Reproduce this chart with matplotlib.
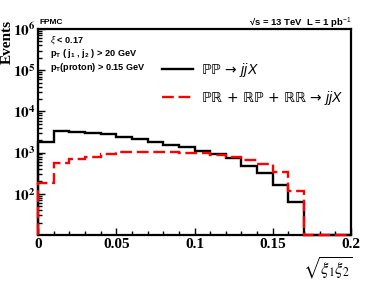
import numpy as np
import matplotlib
matplotlib.use("Agg")
import matplotlib.pyplot as plt
from matplotlib.ticker import LogLocator, MultipleLocator, FixedLocator, NullFormatter

# ---- data ----
bin_edges = np.round(np.arange(0, 0.2001, 0.01), 3)
pp_jjx = [1840, 3340, 3160, 3040, 2830, 2430, 2100, 1780, 1530, 1390,
          1090, 910, 752, 481, 325, 164, 62, 0, 0, 0]
pr_rp_rr_jjx = [186, 569, 700, 795, 910, 1020, 1060, 1050, 1035, 962,
                962, 890, 795, 660, 518, 333, 119, 0, 0, 0]
x_ticks = [0, 0.05, 0.1, 0.15, 0.2]
x_tick_labels = ["0", "0.05", "0.1", "0.15", "0.2"]
y_ticks = [1e2, 1e3, 1e4, 1e5, 1e6]
y_tick_labels = [r"$\mathbf{10^{2}}$", r"$\mathbf{10^{3}}$", r"$\mathbf{10^{4}}$",
                 r"$\mathbf{10^{5}}$", r"$\mathbf{10^{6}}$"]
legend_labels = ["\u2119\u2119 \u2192 $jjX$",
                 "\u2119\u211D + \u211D\u2119 + \u211D\u211D \u2192 $jjX$"]
cut_lines = [r"$\xi$ < 0.17", r"p$_\mathregular{T}$ ( j$_\mathregular{1}$ , j$_\mathregular{2}$ ) > 20 GeV",
             r"p$_\mathregular{T}$(proton) > 0.15 GeV"]

plt.rcParams['mathtext.fontset'] = 'custom'
plt.rcParams['mathtext.rm'] = 'Liberation Sans'
plt.rcParams['mathtext.it'] = 'Liberation Sans:italic'
plt.rcParams['mathtext.bf'] = 'Liberation Sans:bold'

fig = plt.figure(figsize=(3.9, 2.81), dpi=100)
ax = fig.add_axes([38/390, 1 - 235/281, 313/390, 206/281])
ymin, ymax = 10, 1e6
ax.set_yscale('log')
ax.set_xlim(0, 0.2)
ax.set_ylim(ymin, ymax)

ax.stairs(np.maximum(pp_jjx, ymin), bin_edges, baseline=ymin, color='black', lw=1.7,
          label=legend_labels[0], zorder=3, clip_on=False)
ax.stairs(np.maximum(pr_rp_rr_jjx, ymin), bin_edges, baseline=ymin, color='#ff0000', lw=1.7,
          linestyle=(0, (5, 2)), label=legend_labels[1], zorder=4, clip_on=False)

for s in ax.spines.values():
    s.set_linewidth(1.6)

ax.xaxis.set_major_locator(FixedLocator(x_ticks))
ax.xaxis.set_minor_locator(MultipleLocator(0.01))
ax.set_xticklabels(x_tick_labels)
ax.yaxis.set_major_locator(FixedLocator(y_ticks))
ax.yaxis.set_minor_locator(LogLocator(base=10, subs=np.arange(2, 10)))
ax.yaxis.set_minor_formatter(NullFormatter())
ax.set_yticklabels(y_tick_labels)
ax.tick_params(which='both', direction='in', top=False, right=False, width=1.0)
ax.tick_params(which='major', length=5, pad=2)
ax.tick_params(which='minor', length=3)
for lab in ax.get_xticklabels() + ax.get_yticklabels():
    lab.set_family('Liberation Serif')
    lab.set_fontweight('bold')
    lab.set_fontsize(11)
    lab.set_math_fontfamily('stix')

fig.text(7.5/390, 1 - 20/281, "Events", rotation=90, ha='center', va='top',
         family='Liberation Serif', fontweight='bold', fontsize=11)
fig.text(353/390, 1 - 254/281, r"$\sqrt{\xi_1\xi_2}$", ha='right', va='top',
         fontsize=12, math_fontfamily='stix')

fig.text(39/390, 1 - 22/281, "FPMC", ha='left', va='center',
         family='Liberation Sans', fontweight='bold', fontsize=6)
fig.text(352/390, 1 - 22/281, "\u221as = 13 TeV  L = 1 pb$^{-1}$", ha='right', va='center',
         family='Liberation Sans', fontweight='bold', fontsize=6.8)

for i, (t, yy) in enumerate(zip(cut_lines, [40, 54, 68])):
    fig.text(50/390, 1 - yy/281, t, ha='left', va='center',
             family='Liberation Sans', fontweight='bold', fontsize=6.6)

leg = ax.legend(loc='upper left', bbox_to_anchor=((162 - 38)/313, 1 - 32/206),
                frameon=False, handlelength=2.2, handletextpad=0.6,
                labelspacing=0.7, borderpad=0, borderaxespad=0,
                prop={'family': 'DejaVu Sans', 'size': 10})

fig.savefig("out.png", dpi=100)
